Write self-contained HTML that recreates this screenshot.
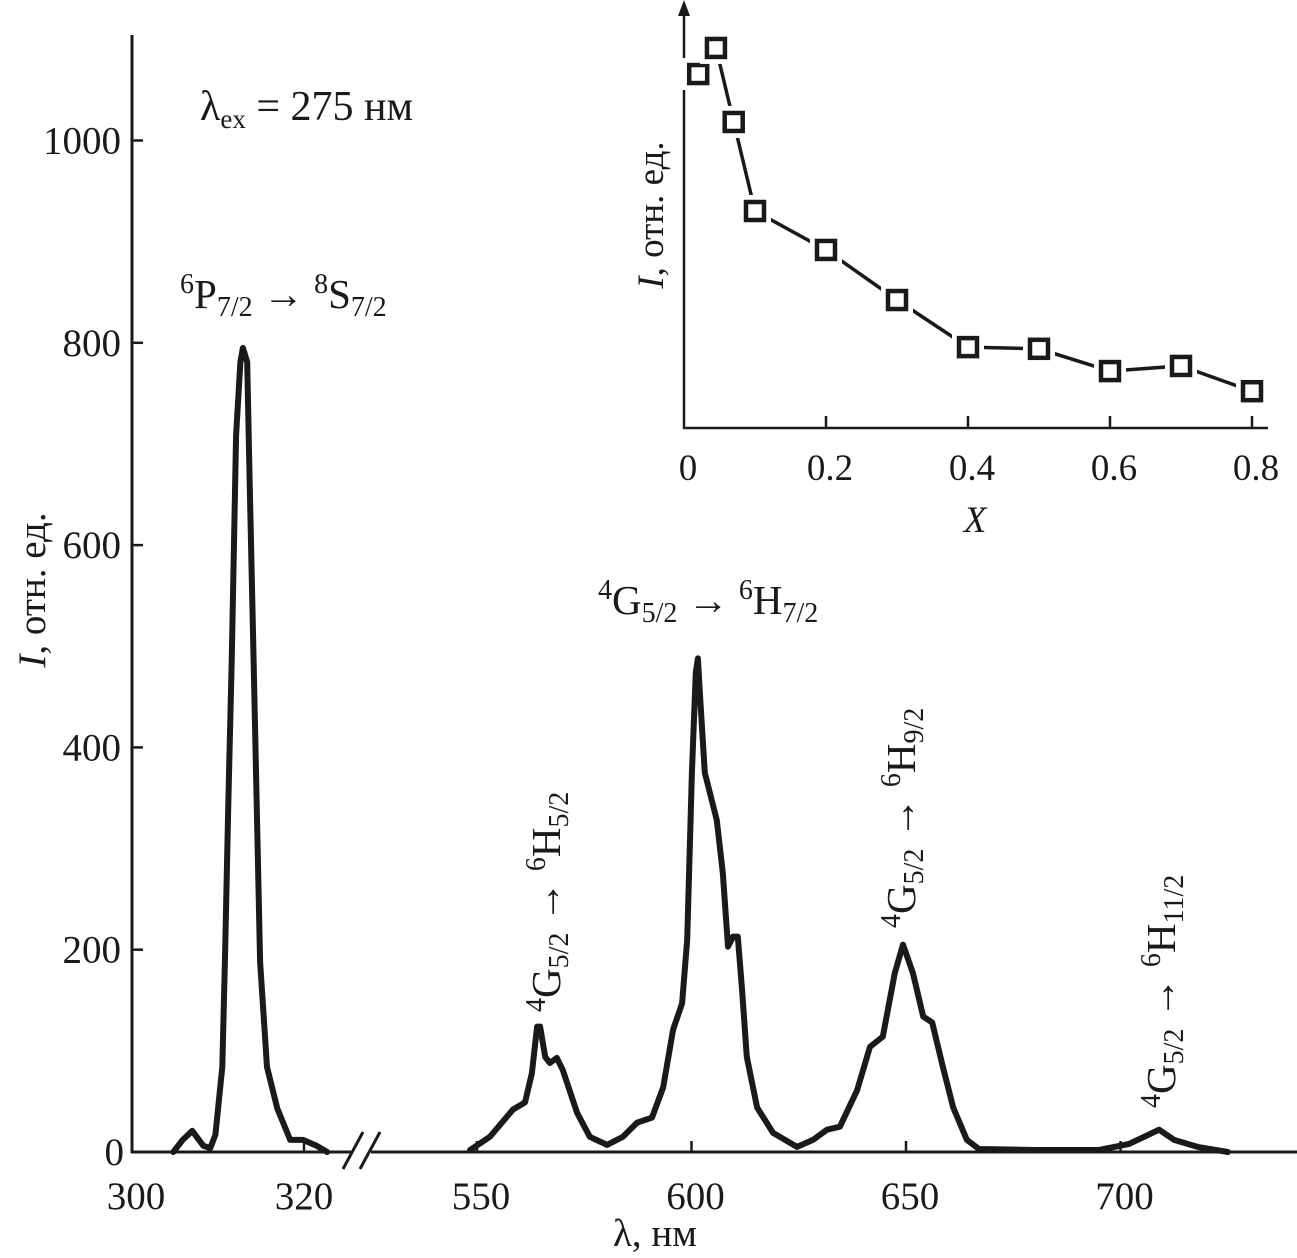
<!DOCTYPE html>
<html><head><meta charset="utf-8">
<style>
html,body{margin:0;padding:0;background:#fff;}
svg{display:block;font-family:"Liberation Serif",serif;}
text{fill:#1a1a1a;}
</style></head>
<body>
<svg id="chart" width="1297" height="1258" viewBox="0 0 1297 1258">
</svg>
<script>
// ---- main spectrum data ----
const leftWl = [304.8,305.9,307.0,308.3,309.1,309.7,310.5,310.8,311.2,311.6,312.1,312.6,312.9,313.4,313.7,314.1,314.5,314.9,315.7,316.9,318.4,319.9,321.5,322.7];
const leftI  = [0,12,21,6,4,17,84,188,344,490,709,781,795,781,656,500,344,188,84,43,12,12,6,0];
const rightWl = [548.4,553,558.4,561.2,562.8,564,564.7,565.9,567,568.6,570,573.3,576.3,580.3,584,587.3,590.8,593.4,595.7,597.8,599,600.1,601,601.5,602,603.1,605.9,607.3,608.5,609.7,610.8,611.8,612.9,615.3,619,624.6,628.3,631.6,634.6,638.6,641.6,644.6,647.4,649.3,651.6,654,656.1,658.6,661,664.2,667,680,695,702,706,709,712.5,718,725];
const rightI  = [2,15,42,49,78,124,124,94,88,93,81,39,15,7,15,29,34,64,121,147,210,375,474,488,450,375,328,276,203,213,213,160,94,44,19,5,12,22,25,61,104,114,177,205,177,134,128,84,44,12,3,2,2,8,16,22,12,5,0];
const yTicks = [0,200,400,600,800,1000];
const leftTicks = [300,320];
const rightTicks = [550,600,650,700];
// ---- inset data ----
const insetX = [0.02,0.045,0.07,0.1,0.2,0.3,0.4,0.5,0.6,0.7,0.8];
const insetI = [82.7,88.8,71.5,50.7,41.6,29.9,18.9,18.5,13.3,14.5,8.6];
const insetTicks = [0,0.2,0.4,0.6,0.8];

const NS="http://www.w3.org/2000/svg";
const svg=document.getElementById('chart');
function mk(tag,attrs,parent){const e=document.createElementNS(NS,tag);for(const k in attrs)e.setAttribute(k,attrs[k]);(parent||svg).appendChild(e);return e;}

const Y=v=>1152-v*1.0115;
const XL=w=>132+(w-300)*8.6;
const XR=w=>477+(w-550)*4.29;
const IX=x=>684+x*710;
const IY=v=>428-v*4.28;

const ax=mk('g',{stroke:'#1a1a1a','stroke-width':3,fill:'none'});


mk('line',{x1:132,y1:35,x2:132,y2:1153},ax);
mk('line',{x1:131,y1:1152,x2:352,y2:1152},ax);
mk('line',{x1:371,y1:1152,x2:1297,y2:1152},ax);
mk('line',{x1:343,y1:1169,x2:363,y2:1132},ax);
mk('line',{x1:360,y1:1169,x2:380,y2:1132},ax);

yTicks.forEach(v=>{
  const t=mk('line',{x1:132,x2:143,y1:Y(v),y2:Y(v),stroke:'#1a1a1a','stroke-width':2.5});
  
  
  const l=mk('text',{x:v===0?124:121,y:Y(v)+13,'font-size':39,'text-anchor':'end'});
  l.textContent=v;
  
  
});
leftTicks.forEach(v=>{
  if(v!==300){const t=mk('line',{x1:XL(v),x2:XL(v),y1:1152,y2:1141,stroke:'#1a1a1a','stroke-width':2.5});
  
  }
  const l=mk('text',{x:XL(v)+(v===300?4:0),y:1209,'font-size':39,'text-anchor':'middle'});
  l.textContent=v;
  
  
});
rightTicks.forEach(v=>{
  const t=mk('line',{x1:XR(v),x2:XR(v),y1:1152,y2:1141,stroke:'#1a1a1a','stroke-width':2.5});
  
  
  const l=mk('text',{x:XR(v)+4,y:1209,'font-size':39,'text-anchor':'middle'});
  l.textContent=v;
  
  
});

function curve(wl,I,X,name){
  const d=wl.map((w,i)=>(i?'L':'M')+X(w).toFixed(1)+','+Y(I[i]).toFixed(1)).join(' ');
  const p=mk('path',{d:d,fill:'none',stroke:'#1a1a1a','stroke-width':6,'stroke-linejoin':'round','stroke-linecap':'round'});
  
  
}
curve(leftWl,leftI,XL,'spectrum-uv-segment');
curve(rightWl,rightI,XR,'spectrum-visible-segment');

const ia=mk('g',{stroke:'#1a1a1a','stroke-width':2.5,fill:'none'});


mk('line',{x1:684,y1:8,x2:684,y2:429},ia);
mk('line',{x1:683,y1:428,x2:1268,y2:428},ia);
mk('path',{d:'M678,16 L684,0 L690,16 Z',fill:'#1a1a1a',stroke:'none'},ia);
insetTicks.forEach(v=>{
  if(v>0){const t=mk('line',{x1:IX(v),x2:IX(v),y1:428,y2:416,stroke:'#1a1a1a','stroke-width':2.5});
  
  }
  const l=mk('text',{x:IX(v)+4,y:480,'font-size':37,'text-anchor':'middle'});
  l.textContent=v;
  
  
});
const il=mk('path',{d:insetX.map((x,i)=>(i?'L':'M')+IX(x).toFixed(1)+','+IY(insetI[i]).toFixed(1)).join(' '),fill:'none',stroke:'#1a1a1a','stroke-width':3.5});


insetX.forEach((x,i)=>{
  mk('rect',{x:IX(x)-16,y:IY(insetI[i])-16,width:32,height:32,fill:'#fff'});
  const r=mk('rect',{x:IX(x)-9,y:IY(insetI[i])-9,width:18,height:18,fill:'#fff',stroke:'#1a1a1a','stroke-width':4.5});
  
  
});
</script>
<script>
const s2=document.getElementById('chart');
s2.insertAdjacentHTML('beforeend',`
<text transform="translate(45,590) rotate(-90)" font-size="39" text-anchor="middle"><tspan font-style="italic">I</tspan>, отн. ед.</text>
<text x="655" y="1246" font-size="39" text-anchor="middle">λ, нм</text>
<text x="200" y="120" font-size="42">λ<tspan font-size="27" dy="8">ex</tspan><tspan dy="-8"> = 275 нм</tspan></text>
<text x="180" y="308" font-size="41"><tspan font-size="28" dy="-15">6</tspan><tspan dy="15">P</tspan><tspan font-size="28" dy="8">7/2</tspan><tspan dy="-8"> → </tspan><tspan font-size="28" dy="-15">8</tspan><tspan dy="15">S</tspan><tspan font-size="28" dy="8">7/2</tspan></text>
<text x="598" y="614" font-size="41"><tspan font-size="28" dy="-15">4</tspan><tspan dy="15">G</tspan><tspan font-size="28" dy="8">5/2</tspan><tspan dy="-8"> → </tspan><tspan font-size="28" dy="-15">6</tspan><tspan dy="15">H</tspan><tspan font-size="28" dy="8">7/2</tspan></text>
<text transform="translate(560,1012) rotate(-90)" font-size="41"><tspan font-size="28" dy="-15">4</tspan><tspan dy="15">G</tspan><tspan font-size="28" dy="8">5/2</tspan><tspan dy="-8"> → </tspan><tspan font-size="28" dy="-15">6</tspan><tspan dy="15">H</tspan><tspan font-size="28" dy="8">5/2</tspan></text>
<text transform="translate(915,928) rotate(-90)" font-size="41"><tspan font-size="28" dy="-15">4</tspan><tspan dy="15">G</tspan><tspan font-size="28" dy="8">5/2</tspan><tspan dy="-8"> → </tspan><tspan font-size="28" dy="-15">6</tspan><tspan dy="15">H</tspan><tspan font-size="28" dy="8">9/2</tspan></text>
<text transform="translate(1175,1108) rotate(-90)" font-size="41"><tspan font-size="28" dy="-15">4</tspan><tspan dy="15">G</tspan><tspan font-size="28" dy="8">5/2</tspan><tspan dy="-8"> → </tspan><tspan font-size="28" dy="-15">6</tspan><tspan dy="15">H</tspan><tspan font-size="28" dy="8">11/2</tspan></text>
<text transform="translate(663,215) rotate(-90)" font-size="37" text-anchor="middle"><tspan font-style="italic">I</tspan>, отн. ед.</text>
<text x="975" y="532" font-size="37" font-style="italic" text-anchor="middle">X</text>
`);
</script>
</body></html>
